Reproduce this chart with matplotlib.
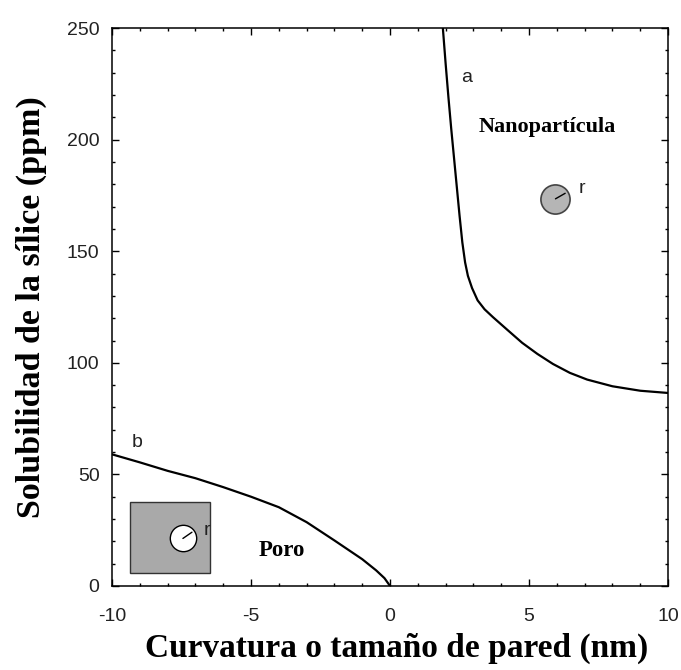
import matplotlib
matplotlib.use("Agg")
import matplotlib.pyplot as plt
from matplotlib.ticker import MultipleLocator
from matplotlib.patches import Rectangle

plt.rcParams['axes.unicode_minus'] = False

# curve a: nanoparticle solubility vs radius
a_x = [1.9, 2.0, 2.1, 2.2, 2.3, 2.4, 2.5, 2.6, 2.7, 2.8, 2.95, 3.15, 3.4, 3.7, 4.2,
       4.75, 5.3, 5.86, 6.47, 7.09, 8.0, 9.0, 10.0]
a_y = [250, 234, 219, 205, 192, 179, 166, 154, 145, 139, 133.5, 128, 124, 120.5, 115,
       109, 104, 99.5, 95.5, 92.5, 89.5, 87.5, 86.5]

# curve b: pore solubility vs curvature
b_x = [-10.0, -9.0, -8.0, -7.0, -6.0, -5.0, -4.0, -3.0, -2.0, -1.0, -0.5, -0.2, 0.0]
b_y = [59.0, 55.4, 51.6, 48.3, 44.3, 40.0, 35.3, 28.6, 20.4, 12.0, 7.0, 3.5, 0.0]

xticks = [-10, -5, 0, 5, 10]
yticks = [0, 50, 100, 150, 200, 250]

serif = ['Liberation Serif', 'DejaVu Serif']
sans = ['Liberation Sans', 'DejaVu Sans']

fig = plt.figure(figsize=(6.81, 6.70), dpi=100)
ax = fig.add_axes([0.1645, 0.1254, 0.8165, 0.8326])

ax.plot(a_x, a_y, color='black', lw=1.6, solid_joinstyle='round')
ax.plot(b_x, b_y, color='black', lw=1.6, solid_joinstyle='round')

ax.set_xlim(-10, 10)
ax.set_ylim(0, 250)
ax.set_xticks(xticks)
ax.set_yticks(yticks)
ax.xaxis.set_minor_locator(MultipleLocator(1))
ax.yaxis.set_minor_locator(MultipleLocator(10))
ax.tick_params(which='both', direction='in', top=True, right=True, width=1.0)
ax.tick_params(which='major', length=5, labelsize=14, labelcolor='#222222')
ax.tick_params(axis='x', which='major', pad=16)
ax.tick_params(axis='y', which='major', pad=9)
ax.tick_params(which='minor', length=2.5)
for lab in ax.get_xticklabels() + ax.get_yticklabels():
    lab.set_family(sans)
for s in ax.spines.values():
    s.set_linewidth(1.1)

ax.set_xlabel('Curvatura o tamaño de pared (nm)', family=serif, fontweight='bold',
              fontsize=24)
ax.set_ylabel('Solubilidad de la sílice (ppm)', family=serif, fontweight='bold',
              fontsize=24.5, labelpad=14)
ax.xaxis.set_label_coords(0.512, -0.083)

# curve labels
ax.text(2.77, 228, 'a', family=sans, fontsize=14, color='#222222', ha='center', va='center')
ax.text(-9.1, 64.5, 'b', family=sans, fontsize=14, color='#222222', ha='center', va='center')
ax.text(5.65, 205.6, 'Nanopartícula', family=serif, fontweight='bold', fontsize=16,
        ha='center', va='center')
ax.text(-3.88, 16, 'Poro', family=serif, fontweight='bold', fontsize=16.5,
        ha='center', va='center')

# pore sketch: gray block with a hole
ax.add_patch(Rectangle((-9.37, 5.8), 2.91, 31.8, facecolor='#a9a9a9', edgecolor='#333333', lw=1.0))
ax.plot([-7.45], [21.3], 'o', ms=19, mfc='white', mec='black', mew=1.0)
ax.annotate('', xy=(-7.45, 21.3), xytext=(6.5, 4.5), textcoords='offset points',
            arrowprops=dict(arrowstyle='-', lw=1.0, color='black', shrinkA=0, shrinkB=0))
ax.text(-6.6, 25, 'r', family=sans, fontsize=14, color='#222222', ha='center', va='center')

# particle sketch
ax.plot([5.95], [173.5], 'o', ms=21, mfc='#b5b5b5', mec='#444444', mew=1.2)
ax.annotate('', xy=(5.95, 173.5), xytext=(7, 4), textcoords='offset points',
            arrowprops=dict(arrowstyle='-', lw=1.0, color='black', shrinkA=0, shrinkB=0))
ax.text(6.9, 178, 'r', family=sans, fontsize=14, color='#222222', ha='center', va='center')

fig.savefig('out.png', dpi=100)
